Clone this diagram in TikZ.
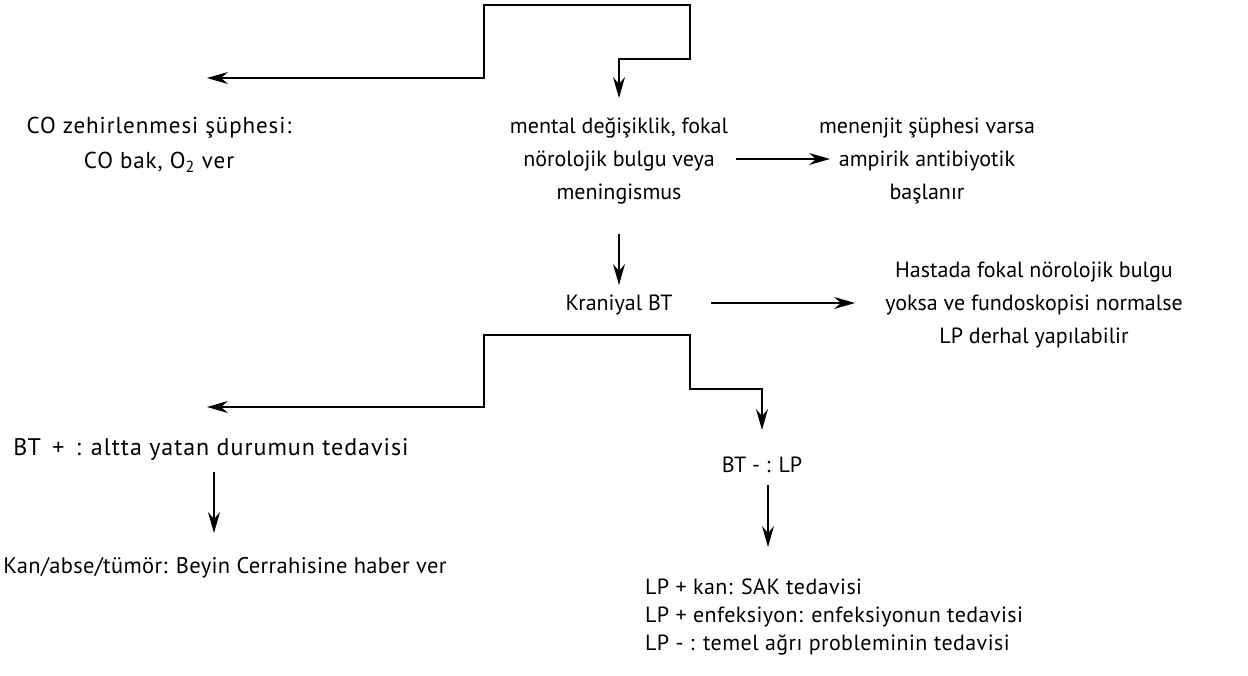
\documentclass[tikz,border=0pt]{standalone}
\usepackage{fontspec}
\setmainfont{PT Sans}
\usetikzlibrary{arrows.meta}
\begin{document}
\begin{tikzpicture}[x=1pt,y=-1pt,
  txt/.style={align=center, font=\fontsize{22}{33}\selectfont, inner sep=0pt, text depth=0pt},
  lptxt/.style={align=left, font=\fontsize{22}{28}\selectfont, inner sep=0pt},
  ln/.style={line width=1.3pt, line cap=rect},
  arr/.style={ln, -{Stealth[length=21pt,width=12pt,inset=7pt]}}]
\useasboundingbox (0,0) rectangle (1248,675);

% text nodes
\node[txt, font=\fontsize{23}{35}\selectfont\addfontfeatures{LetterSpace=4}] (co) at (159,143) {CO zehirlenmesi şüphesi:\\CO bak, O\textsubscript{2} ver};
\node[txt] (mental) at (619,159) {mental değişiklik, fokal\\nörolojik bulgu veya\\meningismus};
\node[txt] (menen) at (927,159) {menenjit şüphesi varsa\\ampirik antibiyotik\\başlanır};
\node[txt] (kran) at (619,303) {Kraniyal BT};
\node[txt] (hast) at (1034,303) {Hastada fokal nörolojik bulgu\\yoksa ve fundoskopisi normalse\\LP derhal yapılabilir};
\node[txt, font=\fontsize{24}{33}\selectfont\addfontfeatures{LetterSpace=4}] (btp) at (211,447) {BT \,+\, : altta yatan durumun tedavisi};
\node[txt, font=\fontsize{22.5}{33}\selectfont\addfontfeatures{LetterSpace=1.5}] (kan) at (225,565) {Kan/abse/tümör: Beyin Cerrahisine haber ver};
\node[txt] (btm) at (762,465) {BT - : LP};
\node[lptxt, anchor=west, font=\fontsize{22}{28}\selectfont\addfontfeatures{LetterSpace=2}] (lp) at (645,617) {LP + kan: SAK tedavisi\\LP + enfeksiyon: enfeksiyonun tedavisi\\LP - : temel ağrı probleminin tedavisi};

% branch points
\coordinate (top) at (484,5);
\coordinate (low) at (484,335);
\coordinate (coin) at (207,78);
\coordinate (btin) at (207,407);

% top branching connector
\draw[arr] (top) |- (coin);
\draw[arr] (top) -| (690,59) -| (mental.north |- 0,98);

% horizontal arrows
\draw[arr] (mental.center) ++(118,0) -- ++(93,0) coordinate (m2);
\draw[arr] (kran.center) ++(93,0) -- ++(143,0) coordinate (k2);

% vertical arrow to Kraniyal BT
\draw[arr] (mental.center) ++(0,76) -- ++(0,50) coordinate (mk);

% lower branching connector
\draw[arr] (low) |- (btin);
\draw[arr] (low) -| (690,389) -| (btm.north |- 0,430);

% lower vertical arrows
\draw[arr] (btp.center) ++(3,26) -- ++(0,60) coordinate (bk);
\draw[arr] (btm.center) ++(6,21) -- ++(0,61) coordinate (bl);
\end{tikzpicture}
\end{document}
